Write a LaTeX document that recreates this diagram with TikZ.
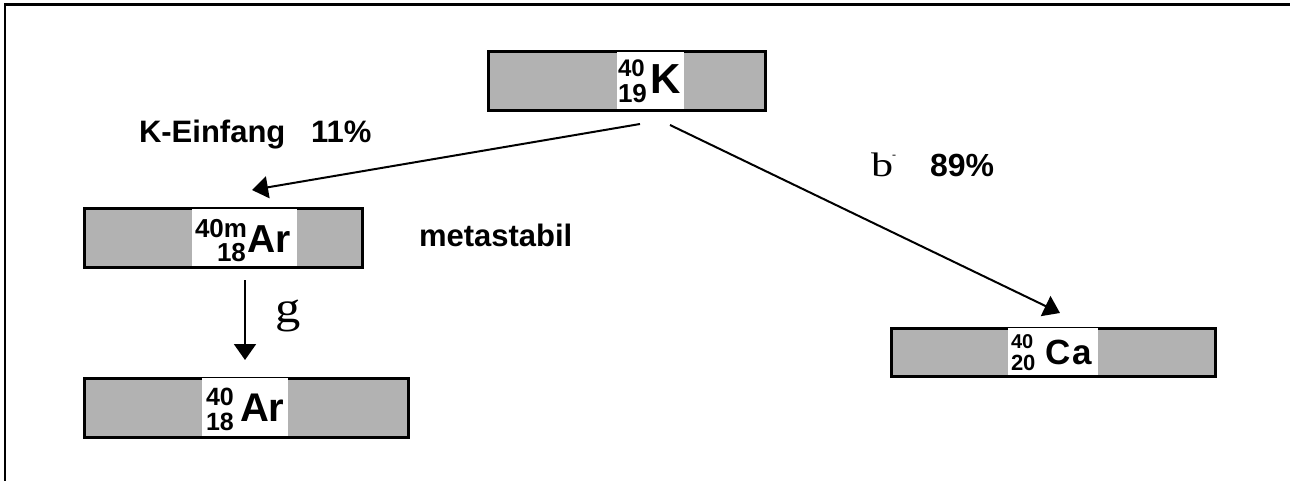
\documentclass[tikz,border=0pt]{standalone}
\usepackage{fontspec}
\setmainfont{Liberation Sans}
\newfontfamily\seriffont{Liberation Serif}
\usetikzlibrary{arrows.meta}
\definecolor{boxgray}{RGB}{178,178,178}
\tikzset{
  nbox/.style={draw=black, line width=3pt, fill=boxgray, rectangle, inner sep=0pt, anchor=north west},
  arr/.style={line width=2pt, -{Triangle[length=16pt,width=22pt]}},
  txt/.style={anchor=base west, inner sep=0pt, outer sep=0pt},
  lbl/.style={txt, font=\fontsize{31}{31}\selectfont\bfseries},
}
\newcommand{\fs}[1]{\fontsize{#1}{#1}\selectfont\bfseries}
\begin{document}
\begin{tikzpicture}[x=1pt,y=-1pt]
\useasboundingbox (0,0) rectangle (1290,481);
% frame
\draw[line width=2.5pt, line join=miter] (5,481) -- (5,4.5) -- (1290,4.5);

% boxes
\node[nbox, minimum width=277pt, minimum height=59pt] (K) at (486.5,50.5) {};
\fill[white] (617,52) rectangle (684,109.5);
\node[nbox, minimum width=278pt, minimum height=58pt] (ArM) at (82.5,207.5) {};
\fill[white] (192,209) rectangle (297,265.5);
\node[nbox, minimum width=324pt, minimum height=59pt] (Ar) at (82.5,376.5) {};
\fill[white] (202,378) rectangle (288,435.5);
\node[nbox, minimum width=324pt, minimum height=48pt] (Ca) at (889.5,326.5) {};
\fill[white] (1008,328) rectangle (1098,374.5);

% nuclide labels
\node[txt, font=\fs{24}] (Kmass) at (618,77) {40};
\node[txt, font=\fs{26}] (Kz) at (618,103) {19};
\node[txt, font=\fs{42}] (Ksym) at (650,94) {K};

\node[txt, font=\fs{26}] (ArMmass) at (195,237) {40m};
\node[txt, font=\fs{26}] (ArMz) at (217,261) {18};
\node[txt, font=\fs{39}] (ArMsym) at (247,252) {Ar};

\node[txt, font=\fs{25}] (Armass) at (206,405) {40};
\node[txt, font=\fs{25}] (Arz) at (206,430) {18};
\node[txt, font=\fs{40}] (Arsym) at (240,421) {Ar};

\node[txt, font=\fs{20}] (Camass) at (1011,348) {40};
\node[txt, font=\fs{22}] (Caz) at (1011,370) {20};
\node[txt, font=\fs{35}] (Casym) at (1045,364) {C\hspace{2pt}a};

% text labels
\node[lbl] (kein) at (139,143) {K-Einfang};
\node[lbl] (kp) at (311,143) {11\%};
\node[lbl] (meta) at (419,246) {metastabil};
\node[txt, font=\fs{32}] (bp) at (930,177) {89\%};
\node[txt, xscale=1.3, font=\seriffont\fontsize{34}{34}\selectfont] (beta) at (871,177) {b};
\node[inner sep=0pt, font=\seriffont\fontsize{12}{12}\selectfont] (betam) at (894,157) {-};
\node[txt, xscale=1.15, font=\seriffont\fontsize{44}{44}\selectfont] (gam) at (275,322) {g};

% connectors
\coordinate (a1s) at (640,124);
\coordinate (a1e) at (252,190);
\coordinate (a2s) at (670,125);
\coordinate (a2e) at (1060,313);
\coordinate (a3s) at (245,280);
\coordinate (a3e) at (245,360);
\draw[arr] (a1s) -- (a1e);
\draw[arr] (a2s) -- (a2e);
\draw[arr] (a3s) -- (a3e);
\end{tikzpicture}
\end{document}
